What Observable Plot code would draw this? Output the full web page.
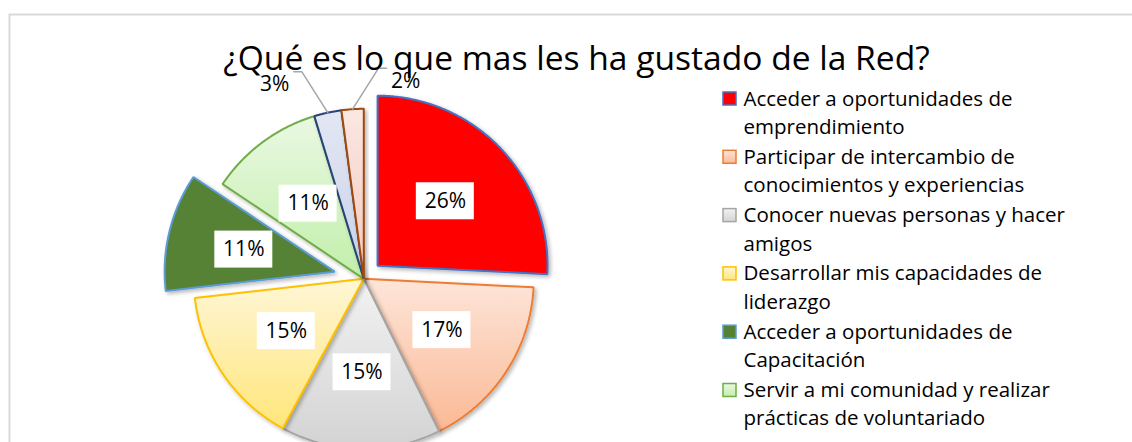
<!DOCTYPE html>
<html>
<head>
<meta charset="utf-8">
<script src="https://cdn.jsdelivr.net/npm/d3@7"></script>
<script src="https://cdn.jsdelivr.net/npm/@observablehq/plot@0.6"></script>
<style>
  html, body { margin: 0; padding: 0; background: #fff; overflow: hidden; }
</style>
</head>
<body>
<div id="chart"></div>
<script>
// ---------------- DATA ----------------
const title = "¿Qué es lo que mas les ha gustado de la Red?";
const categories = [
  "Acceder a oportunidades de emprendimiento",
  "Participar de intercambio de conocimientos y experiencias",
  "Conocer nuevas personas y hacer amigos",
  "Desarrollar mis capacidades de liderazgo",
  "Acceder a oportunidades de Capacitación",
  "Servir a mi comunidad y realizar prácticas de voluntariado",
  "Otra opción 1",
  "Otra opción 2"
];
const values = [25.8, 16.9, 15.2, 15.3, 11.2, 10.9, 2.6, 2.1];
const percentLabels = ["26%", "17%", "15%", "15%", "11%", "11%", "3%", "2%"];

// ---------------- STYLE / LAYOUT ----------------
const W = 1132, H = 442;
const CX = 363.3, CY = 278.3, R = 170;
const EXPLODE = [19, 0, 0, 0, 30, 0, 0, 0];
const GRADIENTS = [
  ["#ff0000", "#ff0000"],
  ["#fde5d9", "#fbb995"],
  ["#f2f2f2", "#d3d3d3"],
  ["#fff6d6", "#ffe67a"],
  ["#548235", "#548235"],
  ["#eaf8e3", "#c2efaa"],
  ["#e3e7f3", "#c9d2ea"],
  ["#fbe7e2", "#f3c9bf"]
];
const STROKES = ["#4472c4", "#ed7d31", "#a5a5a5", "#ffc000", "#5b9bd5", "#70ad47", "#264478", "#9e480e"];
const FONT = "'Open Sans', Lato, sans-serif";
const TITLE_FS = 33.6, LEGEND_FS = 20.5, LABEL_FS = 21, SMALL_FS = 21;
const BOX_W = 58, BOX_H = 37;
const LABEL_R = 0.55, SMALL_LIMIT = 5;
const OUT_DX = 53, OUT_DY = -28, LEAD_DX = 26, LEAD_DY = -41, LEAD_TAIL = 8;
const LEG_X = 723, LEG_SW = 13, LEG_TX = 743, LEG_Y0 = 105, LEG_STEP = 58.3, LEG_LH = 28.5;
const TITLE_X = 576, TITLE_BASE = 69.5;

// ---------------- GEOMETRY ----------------
const total = d3.sum(values);
const polar = (x0, y0, r, a) => ({x: x0 + r * Math.sin(a), y: y0 - r * Math.cos(a)});
let acc = 0;
const slices = values.map((v, i) => {
  const a0 = acc / total * 2 * Math.PI; acc += v;
  const a1 = acc / total * 2 * Math.PI;
  const mid = (a0 + a1) / 2;
  const o = polar(CX, CY, EXPLODE[i], mid);
  return {i, v, a0, a1, mid, ox: o.x, oy: o.y, label: percentLabels[i], name: categories[i]};
});
function slicePoints(s) {
  const n = Math.max(2, Math.ceil((s.a1 - s.a0) / (Math.PI / 360)));
  const pts = [{x: s.ox, y: s.oy}];
  for (let k = 0; k <= n; k++) pts.push(polar(s.ox, s.oy, R, s.a0 + (s.a1 - s.a0) * k / n));
  return pts;
}
const inside = slices.filter(s => s.v >= SMALL_LIMIT).map(s => ({...s, ...polar(s.ox, s.oy, R * LABEL_R, s.mid)}));
const small = slices.filter(s => s.v < SMALL_LIMIT);
const outside = small.map((s, k) => {
  const side = k < (small.length - 1) / 2 ? -1 : 1;   // spread small labels left / right
  const edge = polar(s.ox, s.oy, R, s.mid);
  const bend = {x: edge.x + side * LEAD_DX, y: edge.y + LEAD_DY};
  const tail = {x: bend.x + side * LEAD_TAIL, y: bend.y};
  return {...s, x: edge.x + side * OUT_DX, y: edge.y + OUT_DY, leader: [edge, bend, tail]};
});
const legendRows = slices
  .map((s, i) => ({...s, base: LEG_Y0 + i * LEG_STEP}))
  .filter(d => d.base < H);

// ---------------- PLOT ----------------
const marks = [
  Plot.frame({stroke: "#d9d9d9", strokeWidth: 2, insetLeft: 9, insetTop: 14, insetRight: -20, insetBottom: -20}),
  ...slices.map(s => Plot.line(slicePoints(s), {
    x: "x", y: "y", curve: "linear-closed",
    fill: `url(#pie-grad-${s.i})`, stroke: STROKES[s.i], strokeWidth: 2,
    strokeLinejoin: "miter", className: `pie-slice-${s.i}`
  })),
  ...outside.map(d => Plot.line(d.leader, {x: "x", y: "y", stroke: "#a6a6a6", strokeWidth: 1.5, strokeLinejoin: "miter"})),
  Plot.rect(inside, {
    x1: d => d.x - BOX_W / 2, x2: d => d.x + BOX_W / 2,
    y1: d => d.y - BOX_H / 2, y2: d => d.y + BOX_H / 2, fill: "white"
  }),
  Plot.text(inside, {x: "x", y: "y", text: "label", fontSize: LABEL_FS, fill: "black"}),
  Plot.text(outside, {x: "x", y: "y", text: "label", fontSize: SMALL_FS, fill: "black"}),
  Plot.text([title], {x: () => TITLE_X, y: () => TITLE_BASE - 0.71 * TITLE_FS, text: d => d, lineAnchor: "top", fontSize: TITLE_FS, fill: "black"}),
  Plot.rect(legendRows, {
    x1: () => LEG_X, x2: () => LEG_X + LEG_SW,
    y1: d => d.base - LEG_SW, y2: d => d.base,
    fill: d => `url(#pie-grad-${d.i})`, stroke: d => STROKES[d.i], strokeWidth: 1.5
  }),
  Plot.text(legendRows, {
    x: () => LEG_TX, y: d => d.base - 0.71 * LEG_LH, text: "name",
    textAnchor: "start", lineAnchor: "top", lineWidth: 17, lineHeight: LEG_LH / LEGEND_FS,
    fontSize: LEGEND_FS, fill: "black"
  })
];

const plot = Plot.plot({
  width: W, height: H,
  marginTop: 0, marginRight: 0, marginBottom: 0, marginLeft: 0,
  x: {domain: [0, W], range: [0, W], axis: null},
  y: {domain: [0, H], range: [0, H], axis: null},
  style: {fontFamily: FONT, background: "white", overflow: "hidden"},
  marks
});

// gradients (Excel-like light gradient fills) and soft shadow
const svg = plot.tagName.toLowerCase() === "svg" ? plot : plot.querySelector("svg");
const defs = d3.create("svg:defs");
GRADIENTS.forEach((g, i) => {
  const lg = defs.append("linearGradient").attr("id", `pie-grad-${i}`)
    .attr("x1", 0).attr("y1", 0).attr("x2", 0).attr("y2", 1);
  lg.append("stop").attr("offset", "0%").attr("stop-color", g[0]);
  lg.append("stop").attr("offset", "100%").attr("stop-color", g[1]);
});
const f = defs.append("filter").attr("id", "pie-shadow")
  .attr("x", "-10%").attr("y", "-10%").attr("width", "130%").attr("height", "130%");
f.append("feGaussianBlur").attr("in", "SourceAlpha").attr("stdDeviation", 2).attr("result", "blur");
f.append("feOffset").attr("in", "blur").attr("dx", 1.5).attr("dy", 2).attr("result", "off");
f.append("feComponentTransfer").attr("in", "off").attr("result", "shadow")
  .append("feFuncA").attr("type", "linear").attr("slope", 0.3);
const merge = f.append("feMerge");
merge.append("feMergeNode").attr("in", "shadow");
merge.append("feMergeNode").attr("in", "SourceGraphic");
svg.insertBefore(defs.node(), svg.firstChild);
slices.forEach(s => {
  d3.select(svg).selectAll(`.pie-slice-${s.i}`).attr("filter", "url(#pie-shadow)");
});
document.getElementById("chart").appendChild(plot);
</script>
</body>
</html>
